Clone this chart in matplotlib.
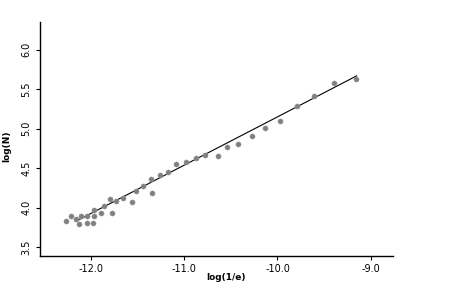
import numpy as np
import matplotlib
matplotlib.use("Agg")
import matplotlib.pyplot as plt

# puntos
log_e = [-12.271, -12.214, -12.166, -12.129, -12.107, -12.048, -12.046, -11.986,
         -11.965, -11.965, -11.890, -11.861, -11.800, -11.772, -11.736, -11.657,
         -11.558, -11.518, -11.440, -11.361, -11.350, -11.266, -11.175, -11.089,
         -10.986, -10.879, -10.779, -10.643, -10.547, -10.422, -10.275, -10.132,
         -9.972, -9.793, -9.607, -9.393, -9.161]
log_n = [3.835, 3.902, 3.861, 3.797, 3.902, 3.902, 3.810, 3.810,
         3.971, 3.895, 3.928, 4.022, 4.105, 3.937, 4.089, 4.123,
         4.067, 4.206, 4.278, 4.358, 4.181, 4.411, 4.456, 4.557,
         4.573, 4.633, 4.671, 4.650, 4.772, 4.810, 4.907, 5.004,
         5.101, 5.291, 5.409, 5.582, 5.629]

# recta de ajuste
fit_x = [-12.17, -9.15]
fit_slope = 0.61
fit_intercept = 11.25

xticks = [-12.0, -11.0, -10.0, -9.0]
yticks = [3.5, 4.0, 4.5, 5.0, 5.5, 6.0]

fig = plt.figure(figsize=(4.62, 2.92), dpi=100)
ax = fig.add_axes([0.0866, 0.1233, 0.764, 0.8014])

ax.scatter(log_e, log_n, s=14, color='#808080', edgecolors='#9a9a9a', linewidths=0.3, zorder=3)
fx = np.array(fit_x)
ax.plot(fx, fit_slope * fx + fit_intercept, color='black', linewidth=0.8, zorder=2)

ax.set_xlim(-12.55, -8.76)
ax.set_ylim(3.39, 6.35)
ax.set_xticks(xticks)
ax.set_yticks(yticks)
ax.set_xticklabels(["%.1f" % t for t in xticks])
ax.set_yticklabels(["%.1f" % t for t in yticks], rotation=90, va='center')

for s in ['top', 'right']:
    ax.spines[s].set_visible(False)
for s in ['left', 'bottom']:
    ax.spines[s].set_linewidth(1.0)
ax.tick_params(axis='both', length=3, width=0.8, labelsize=7, pad=3)

ax.set_xlabel("log(1/e)", fontsize=6.5, fontweight='bold')
ax.set_ylabel("log(N)", fontsize=6.5, fontweight='bold')
ax.xaxis.set_label_coords(0.527, -0.094)
ax.yaxis.set_label_coords(-0.093, 0.47)
ax.xaxis.label.set_va('center')
ax.yaxis.label.set_va('center')

fig.savefig("out.png", dpi=100)
